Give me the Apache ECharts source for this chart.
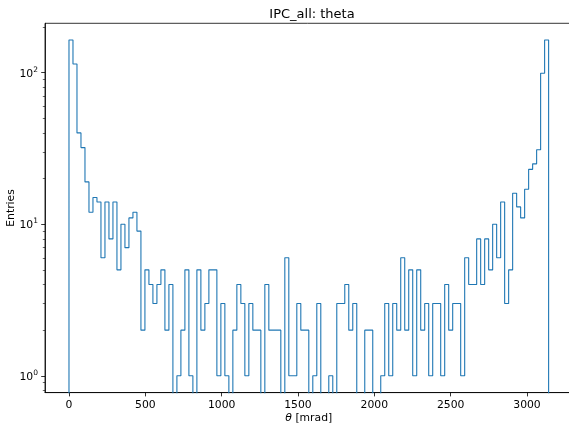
<!DOCTYPE html>
<html>
<head>
<meta charset="utf-8">
<script src="https://cdn.jsdelivr.net/npm/echarts@6/dist/echarts.min.js"></script>
<style>
html,body{margin:0;padding:0;background:#fff;}
#chart{width:569px;height:425px;}
</style>
</head>
<body>
<div id="chart"></div>
<script>
// histogram of theta [mrad], 120 bins from 0 to pi*1000
const thetaMax = 3141.59;
const counts = [
  164, 114, 40, 32, 19, 12, 15, 14, 6, 14, 8, 14, 5, 10, 7, 11, 12, 9, 2, 5,
  4, 3, 4, 5, 2, 4, 0, 1, 2, 5, 1, 0, 5, 2, 3, 5, 5, 1, 3, 1,
  0, 2, 4, 3, 1, 3, 2, 2, 0, 4, 2, 2, 2, 0, 6, 1, 1, 3, 2, 2,
  0, 1, 3, 0, 0, 1, 0, 3, 3, 4, 2, 3, 0, 0, 2, 2, 0, 0, 1, 3,
  1, 3, 2, 6, 2, 5, 1, 5, 2, 3, 1, 3, 3, 1, 4, 2, 3, 3, 1, 6,
  4, 4, 8, 4, 8, 5, 10, 6, 14, 3, 5, 16, 13, 11, 17, 23, 25, 31, 99, 164
];
const xTicks = [0, 500, 1000, 1500, 2000, 2500, 3000];
const yMajor = [1, 10, 100];
const yMinor = [0.8, 0.9, 2, 3, 4, 5, 6, 7, 8, 9, 20, 30, 40, 50, 60, 70, 80, 90, 200];

// step outline: empty bins drop below the log axis and are clipped
const binW = thetaMax / counts.length;
const below = 0.3;
const outline = [[0, below]];
counts.forEach(function (c, i) {
  const y = c > 0 ? c : below;
  outline.push([i * binW, y], [(i + 1) * binW, y]);
});
outline.push([thetaMax, below]);

const FONT = 'DejaVu Sans';
const chart = echarts.init(document.getElementById('chart'), null, {renderer: 'canvas'});
chart.setOption({
  animation: false,
  backgroundColor: '#ffffff',
  title: {
    text: 'IPC_all: theta',
    left: 307,
    top: 3,
    textAlign: 'center',
    textStyle: {fontFamily: FONT, fontSize: 13, fontWeight: 'normal', color: '#000'}
  },
  grid: {
    left: 45, top: 23.3, right: -3.6, bottom: 32.4,
    containLabel: false,
    outerBoundsMode: 'none',
    show: true, borderColor: '#000', borderWidth: 0.8, backgroundColor: 'transparent'
  },
  xAxis: {
    type: 'value',
    min: -157.08,
    max: 3298.67,
    name: '{it|θ} [mrad]',
    nameLocation: 'middle',
    nameGap: 20,
    nameMoveOverlap: false,
    nameTextStyle: {
      fontFamily: FONT, fontSize: 10.8, color: '#000',
      rich: {it: {fontFamily: FONT, fontSize: 10.8, fontStyle: 'italic', color: '#000'}}
    },
    axisLine: {show: true, onZero: false, lineStyle: {color: '#000', width: 0.8}},
    axisTick: {show: true, length: 3.8, customValues: xTicks, lineStyle: {color: '#000', width: 0.8}},
    axisLabel: {
      customValues: xTicks, margin: 7, fontFamily: FONT, fontSize: 10.8, color: '#000',
      formatter: function (v) { return String(v); }
    },
    splitLine: {show: false}
  },
  yAxis: [{
    type: 'log',
    logBase: 10,
    min: 0.7749,
    max: 211.3,
    name: 'Entries',
    nameLocation: 'middle',
    nameGap: 28,
    nameMoveOverlap: false,
    nameTextStyle: {fontFamily: FONT, fontSize: 10.8, color: '#000'},
    axisLine: {show: true, onZero: false, lineStyle: {color: '#000', width: 0.8}},
    axisTick: {show: true, length: 3.8, customValues: yMajor, lineStyle: {color: '#000', width: 0.8}},
    axisLabel: {
      customValues: yMajor,
      margin: 7,
      formatter: function (v) { return '{b|10}{s|' + Math.round(Math.log10(v)) + '}'; },
      rich: {
        b: {fontFamily: FONT, fontSize: 10.8, color: '#000', verticalAlign: 'bottom', lineHeight: 14},
        s: {fontFamily: FONT, fontSize: 7.5, color: '#000', verticalAlign: 'top', lineHeight: 10}
      }
    },
    splitLine: {show: false}
  }, {
    type: 'log',
    logBase: 10,
    min: 0.7749,
    max: 211.3,
    position: 'left',
    axisLine: {show: false, onZero: false},
    axisTick: {show: true, length: 2.2, customValues: yMinor, lineStyle: {color: '#000', width: 0.6}},
    axisLabel: {show: false},
    splitLine: {show: false}
  }],
  series: [{
    type: 'line',
    data: outline,
    yAxisIndex: 0,
    showSymbol: false,
    symbol: 'none',
    clip: true,
    lineStyle: {color: '#1f77b4', width: 1.1},
    silent: true
  }]
});
</script>
</body>
</html>
